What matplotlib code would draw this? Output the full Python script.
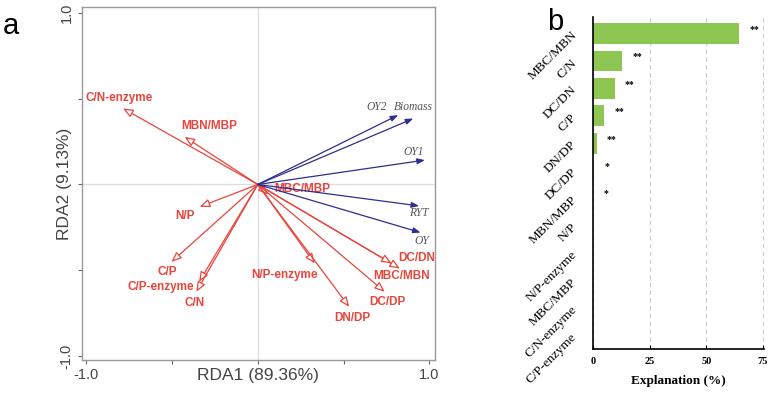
"""RDA biplot (a) and explanation bar chart (b)."""

import matplotlib
matplotlib.use("Agg")
import matplotlib.pyplot as plt

# --- panel a: RDA loadings ---
soil_vars = ["C/N-enzyme", "MBN/MBP", "N/P", "C/P", "C/P-enzyme", "C/N",
             "MBC/MBP", "N/P-enzyme", "DN/DP", "DC/DP", "MBC/MBN", "DC/DN"]
soil_rda1 = [-0.785, -0.426, -0.338, -0.503, -0.342, -0.358,
             0.060, 0.332, 0.533, 0.740, 0.828, 0.780]
soil_rda2 = [0.443, 0.277, -0.130, -0.451, -0.567, -0.625,
             -0.060, -0.460, -0.713, -0.625, -0.489, -0.460]

yield_vars = ["OY2", "Biomass", "OY1", "RYT", "OY"]
yield_rda1 = [0.818, 0.906, 0.974, 0.940, 0.949]
yield_rda2 = [0.404, 0.384, 0.142, -0.125, -0.280]

# label offsets in pixels (layout only)
soil_offsets = [(-4, 10), (25, 11), (-15, -9), (-4, -10), (-38, -5), (-2, -11),
                (34, 6), (-30, -12), (3, -11), (3, -10), (2, -8), (25, 5)]
yield_offsets = [(-22, 8), (0, 12), (-11, 8), (0, -7), (1, -8)]

# --- panel b: explanation (%) ---
bar_vars = ["MBC/MBN", "C/N", "DC/DN", "C/P", "DN/DP", "DC/DP", "MBN/MBP",
            "N/P", "N/P-enzyme", "MBC/MBP", "C/N-enzyme", "C/P-enzyme"]
bar_vals = [64.6, 12.8, 9.6, 4.9, 1.7, 0.5, 0, 0, 0, 0, 0, 0]
bar_sig = ["**", "**", "**", "**", "**", "*", "*", "", "", "", "", ""]

RED = "#e8453c"
NAVY = "#2e2e8c"
GREEN = "#8dc653"

fig = plt.figure(figsize=(7.71, 3.97), dpi=100)

# ---------------- panel a ----------------
ax = fig.add_axes([0.106, 0.093, 0.458, 0.889])
ax.set_xlim(-1.026, 1.032)
ax.set_ylim(-1.023, 1.033)
ax.axhline(0, color="#dddddd", lw=0.9, zorder=0)
ax.axvline(0, color="#dddddd", lw=0.9, zorder=0)

for name, x, y, off in zip(soil_vars, soil_rda1, soil_rda2, soil_offsets):
    ax.annotate("", xy=(x, y), xytext=(0, 0),
                arrowprops=dict(arrowstyle="-|>,head_length=0.6,head_width=0.25",
                                fc="white", ec=RED, lw=0.9,
                                shrinkA=0, shrinkB=0))
    ax.annotate(name, xy=(x, y), xytext=off, textcoords="offset pixels",
                ha="center", va="center", color=RED, fontsize=8.5,
                fontweight="bold", family="Liberation Sans")

for name, x, y, off in zip(yield_vars, yield_rda1, yield_rda2, yield_offsets):
    ax.annotate("", xy=(x, y), xytext=(0, 0),
                arrowprops=dict(arrowstyle="-|>,head_length=0.45,head_width=0.17",
                                fc=NAVY, ec=NAVY, lw=0.9,
                                shrinkA=0, shrinkB=0))
    ax.annotate(name, xy=(x, y), xytext=off, textcoords="offset pixels",
                ha="center", va="center", color="#555555", fontsize=8.3,
                style="italic", family="Liberation Serif",
                annotation_clip=False, clip_on=True)

ax.set_xticks([-1, -0.5, 0, 0.5, 1])
ax.set_xticklabels(["-1.0", "", "", "", "1.0"])
ax.set_yticks([-1, -0.5, 0, 0.5, 1])
ax.set_yticklabels(["-1.0", "", "", "", "1.0"], rotation=90, va="center")
ax.tick_params(direction="out", length=3, color="#666666", labelcolor="#444444",
               labelsize=10.5, pad=3)
for lbl in ax.get_xticklabels() + ax.get_yticklabels():
    lbl.set_family("Liberation Sans")
for sp in ax.spines.values():
    sp.set_color("#999999")
    sp.set_linewidth(1.0)
ax.set_xlabel("RDA1 (89.36%)", fontsize=12.5, color="#444444",
              family="Liberation Sans")
ax.xaxis.set_label_coords(0.5, -0.022)
ax.set_ylabel("RDA2 (9.13%)", fontsize=12.5, color="#444444",
              family="Liberation Sans")
ax.yaxis.set_label_coords(-0.028, 0.5)
fig.text(0.003, 0.915, "a", fontsize=21, family="Liberation Sans")

# ---------------- panel b ----------------
bx = fig.add_axes([0.769, 0.121, 0.222, 0.836])
pos = list(range(len(bar_vars)))
bx.barh(pos, bar_vals, height=0.76, color=GREEN, zorder=2)
for i, (v, s) in enumerate(zip(bar_vals, bar_sig)):
    if s:
        bx.text(v + 4.5, i - 0.15, s, fontsize=7, fontweight="bold",
                va="center", ha="left", family="Liberation Serif")
bx.set_ylim(11.5, -0.6)
bx.set_xlim(0, 75.5)
bx.set_yticks(pos)
bx.set_yticklabels(bar_vars, rotation=45, ha="right", va="center",
                   rotation_mode="anchor", family="Liberation Serif", fontsize=9.5)
bx.set_xticks([0, 25, 50, 75])
for lbl in bx.get_xticklabels():
    lbl.set_family("Liberation Serif")
    lbl.set_fontweight("bold")
bx.tick_params(axis="y", length=0, pad=13)
bx.tick_params(axis="x", direction="in", length=3, labelsize=7.5, pad=6)
bx.grid(axis="x", linestyle=(0, (4, 3)), color="#cccccc", lw=0.8, zorder=0)
bx.spines["top"].set_visible(False)
bx.spines["right"].set_visible(False)
bx.spines["left"].set_linewidth(1.2)
bx.spines["bottom"].set_linewidth(1.2)
bx.set_xlabel("Explanation (%)", fontsize=9.5, fontweight="bold",
              family="Liberation Serif", labelpad=6)
fig.text(0.71, 0.925, "b", fontsize=21, family="Liberation Sans")

fig.savefig("out.png", dpi=100)
plt.close(fig)
